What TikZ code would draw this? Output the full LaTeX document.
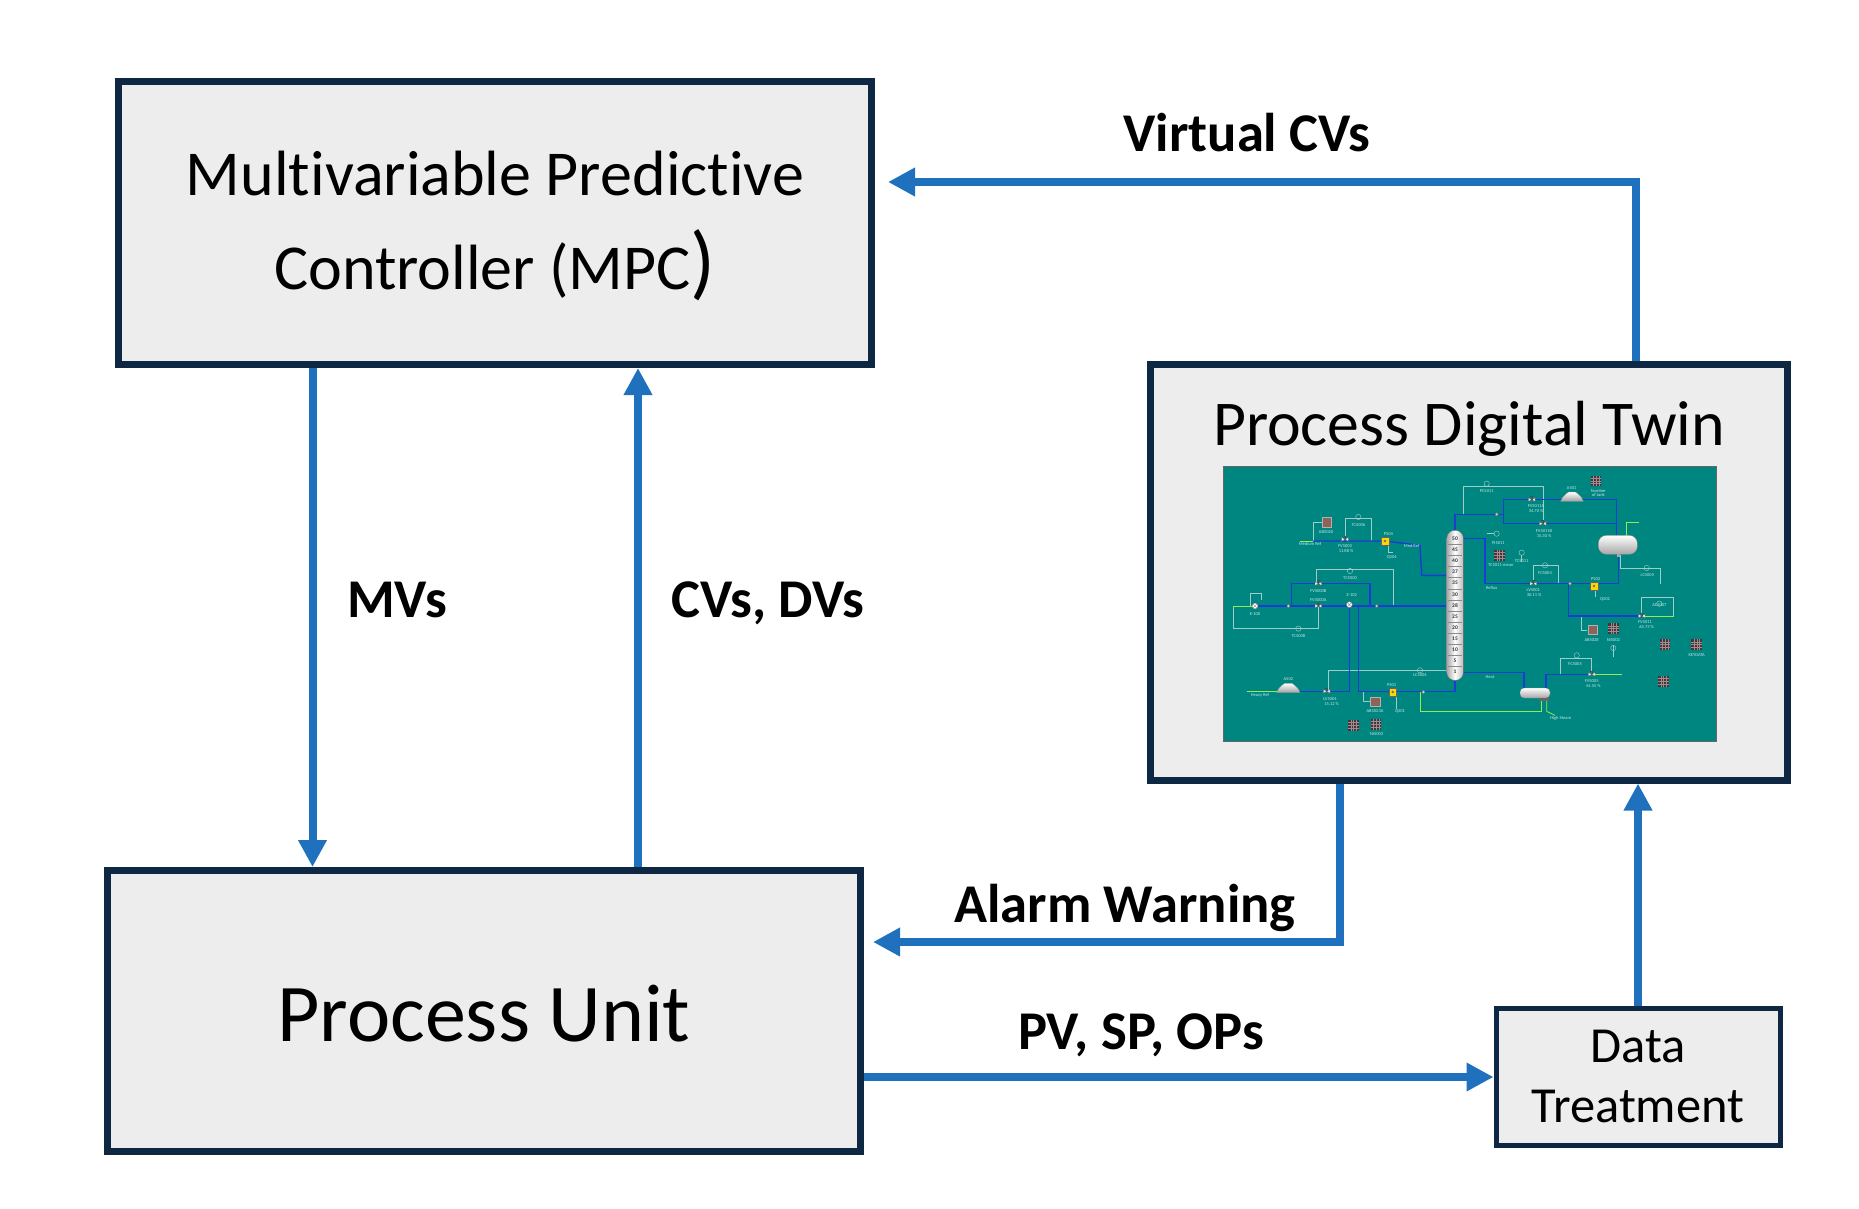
\documentclass[tikz,border=0pt]{standalone}
\usepackage{fontspec}
\setmainfont{Carlito}[Ligatures=NoCommon]
\usetikzlibrary{arrows.meta}
\definecolor{navy}{RGB}{14,40,68}
\definecolor{boxfill}{RGB}{237,237,237}
\definecolor{arrowblue}{RGB}{31,113,190}
\definecolor{tealbg}{RGB}{0,134,128}
\definecolor{pipeblue}{RGB}{30,60,210}
\definecolor{sigline}{RGB}{160,205,200}
\definecolor{greenline}{RGB}{150,235,80}
\definecolor{gridc}{RGB}{70,52,58}
\definecolor{gridl}{RGB}{160,140,140}
\definecolor{anac}{RGB}{140,100,90}
\definecolor{labc}{RGB}{195,232,230}
\tikzset{
  box/.style={draw=navy, fill=boxfill, line width=7pt, inner sep=0pt},
  flow/.style={draw=arrowblue, line width=8pt, -{Triangle[length=27pt,width=27pt]}},
  lbl/.style={font=\bfseries\fontsize{54.6}{60}\selectfont, anchor=base, inner sep=0pt},
  boxtxt/.style={anchor=base, inner sep=0pt},
  fslab/.style={font=\fontsize{4.5}{5}\selectfont, text=labc, inner sep=0pt},
  colnum/.style={font=\bfseries\fontsize{5.5}{6}\selectfont, text=black!80, inner sep=0pt},
  pipe/.style={draw=pipeblue, line width=1.4pt},
  sig/.style={draw=sigline, line width=0.4pt},
  grn/.style={draw=greenline, line width=0.8pt},
  fsvalve/.pic={
    \fill[white!85!gray, draw=black!70, line width=0.25pt] (-10,-6)--(-10,6)--(0,0)--cycle (10,-6)--(10,6)--(0,0)--cycle;
    \draw[black!70, line width=0.3pt] (0,0)--(0,-10) (-4,-10)--(4,-10);},
  fspump/.pic={
    \fill[yellow!75!orange, draw=black!60, line width=0.25pt] (-11,-11) rectangle (11,11);
    \fill[black!55] (0,0) circle (4);},
  fsgrid/.pic={
    \fill[gridc] (-16,-16) rectangle (16,16);
    \draw[gridl, line width=0.35pt] (-16,-8)--(16,-8) (-16,0)--(16,0) (-16,8)--(16,8) (-8,-16)--(-8,16) (0,-16)--(0,16) (8,-16)--(8,16);},
  fsana/.pic={\fill[anac, draw=gray!60, line width=0.3pt] (-14,-14) rectangle (14,14);},
  fsctl/.pic={\draw[sigline, line width=0.4pt] (0,0) circle (8);},
  fsmix/.pic={\fill[white, draw=black!60, line width=0.3pt] (0,0) circle (9); \draw[black!60, line width=0.3pt] (-6,-6)--(6,6) (-6,6)--(6,-6);},
  fsjn/.pic={\fill[gray!40, draw=black!60, line width=0.25pt] (0,0) circle (5);}
}
\begin{document}
\begin{tikzpicture}[x=1pt, y=-1pt, line cap=butt]
\useasboundingbox (0,0) rectangle (1859,1209);
\fill[white] (0,0) rectangle (1859,1209);

% ---------- boxes ----------
\node[box, minimum width=753pt, minimum height=283pt] (mpc) at (495,223) {};
\node[box, minimum width=753pt, minimum height=281pt] (pu) at (484,1011) {};
\node[box, minimum width=637pt, minimum height=416pt] (dt) at (1469,572) {};
\node[box, line width=5pt, minimum width=284pt, minimum height=137pt] (dtr) at (1638,1077) {};

% ---------- box texts ----------
\node[boxtxt, font=\fontsize{64}{70}\selectfont] (mpc1) at (495,196) {Multivariable Predictive};
\node[boxtxt, font=\fontsize{64}{70}\selectfont] (mpc2) at (495,289) {Controller (MPC{\fontsize{82}{82}\selectfont)}};
\node[boxtxt, font=\fontsize{82}{90}\selectfont] (put) at (484,1041) {Process Unit};
\node[boxtxt, font=\fontsize{63.8}{70}\selectfont] (dtt) at (1469,445) {Process Digital Twin};
\node[boxtxt, font=\fontsize{50.5}{56}\selectfont] (dtr1) at (1638,1062) {Data};
\node[boxtxt, font=\fontsize{50.5}{56}\selectfont] (dtr2) at (1638,1122) {Treatment};

% ---------- flowsheet picture ----------
\node[draw=black!60, fill=tealbg, line width=0.6pt, inner sep=0pt, minimum width=492.6pt, minimum height=275.3pt] (img) at (1469.6,603.6) {};
\begin{scope}[xshift=1220pt, yshift=-462pt, x=0.33333pt, y=-0.33333pt]
  % signal lines
  \draw[sig] (730,157)--(730,72)--(970,72)--(970,185);
  \draw[sig] (280,237)--(280,180)--(305,180);
  \draw[sig] (375,225)--(375,168)--(455,168)--(455,237);
  \draw[sig] (290,365)--(290,322)--(520,322)--(520,432);
  \draw[sig] (40,432)--(40,500)--(295,500)--(295,432);
  \draw[sig] (90,432)--(90,395)--(125,395)--(125,415);
  \draw[sig] (800,215)--(822,215);
  \draw[sig] (940,355)--(940,310)--(1015,310)--(1015,362);
  \draw[sig] (905,280)--(905,300);
  \draw[sig] (1200,280)--(1200,318)--(1320,318)--(1320,365);
  \draw[sig] (1265,455)--(1265,405)--(1360,405)--(1360,462);
  \draw[sig] (1085,462)--(1085,505)--(1100,505);
  \draw[sig] (1020,637)--(1020,590)--(1115,590)--(1115,630);
  \draw[sig] (325,688)--(325,625)--(690,625)--(690,632);
  \draw[sig] (430,688)--(430,718)--(450,718);
  \draw[sig] (530,690)--(530,740);
  \draw[sig] (505,245)--(505,272)--(520,272);
  \draw[sig] (1125,380)--(1125,405);
  \draw[sig] (1180,550)--(1180,585);
  % green lines
  \draw[grn] (40,432)--(100,432);
  \draw[grn] (240,237)--(280,237);
  \draw[grn] (80,688)--(180,688);
  \draw[grn] (1270,462)--(1362,462);
  \draw[grn] (1120,637)--(1205,637);
  \draw[grn] (600,690)--(600,748)--(965,748)--(965,712);
  \draw[grn] (1220,222)--(1220,180)--(1258,180);
  \draw[grn] (980,712)--(980,748)--(1005,760);
  % blue pipes
  \draw[pipe] (105,432)--(680,432);
  \draw[pipe] (215,432)--(215,365)--(450,365)--(450,432);
  \draw[pipe] (388,432)--(388,688)--(235,688);
  \draw[pipe] (415,432)--(415,688)--(705,688)--(705,655);
  \draw[pipe] (280,237)--(495,237)--(600,250)--(605,340)--(680,340);
  \draw[pipe] (705,205)--(705,157)--(850,157);
  \draw[pipe] (850,113)--(850,185);
  \draw[pipe] (850,113)--(1190,113)--(1190,220);
  \draw[pipe] (850,185)--(1190,185);
  \draw[pipe] (730,230)--(795,230)--(795,365)--(1195,365)--(1195,280);
  \draw[pipe] (1045,365)--(1045,462)--(1265,462);
  \draw[pipe] (730,632)--(912,632)--(912,678);
  \draw[pipe] (978,678)--(978,637)--(1115,637);
  % column
  \shade[left color=gray!70, right color=gray!55, middle color=white, draw=black!60, line width=0.3pt, rounded corners=8pt] (680,205) rectangle (730,655);
  \foreach \yy in {246,279,313,346,380,413,446,480,513,546,580,613}
    \draw[black!45, line width=0.25pt] (684,\yy)--(726,\yy);
  \foreach \nn/\yy in {50/230,45/263,40/296,37/330,35/363,30/397,28/430,25/463,20/496,15/530,10/563,5/597,1/630}
    \node[colnum] at (705,\yy) {\nn};
  % drum and reboiler
  \shade[top color=white, bottom color=gray!70, draw=black!50, line width=0.3pt, rounded corners=8pt] (1135,220) rectangle (1252,277);
  \fill[gray!70] (1190,277) rectangle (1200,285);
  \shade[top color=white, bottom color=gray!70, draw=black!50, line width=0.3pt, rounded corners=4pt] (900,678) rectangle (990,708);
  \fill[black!60] (958,708) rectangle (988,718);
  % tanks
  \shade[top color=white, bottom color=gray!75, draw=black!40, line width=0.25pt] (1022,118)--(1090,118)--(1084,106)--(1074,96)--(1066,90)--(1046,90)--(1038,96)--(1028,106)--cycle;
  \shade[top color=white, bottom color=gray!75, draw=black!40, line width=0.25pt] (170,692)--(240,692)--(234,680)--(224,670)--(216,664)--(194,664)--(186,670)--(176,680)--cycle;
  % icons
  \foreach \px/\py in {1128/57,838/280,1180/500,1335/548,1430/548,1330/658,400/790,468/787}
    \pic at (\px,\py) {fsgrid};
  \foreach \px/\py in {320/180,1117/503,465/718}
    \pic at (\px,\py) {fsana};
  \foreach \px/\py in {375/232,295/365,295/432,320/688,935/113,968/185,940/365,1265/462,1115/637}
    \pic at (\px,\py) {fsvalve};
  \foreach \px/\py in {495/237,518/690,1122/372}
    \pic at (\px,\py) {fspump};
  \foreach \px/\py in {800/65,415/165,390/327,235/500,830/215,905/272,975/310,1280/318,1318/425,1070/580,600/625,1180/558}
    \pic at (\px,\py) {fsctl};
  \pic at (105,432) {fsmix};
  \pic at (388,428) {fsmix};
  \foreach \px/\py in {205/432,470/432,610/690,1050/365,830/157}
    \pic at (\px,\py) {fsjn};
  % tiny labels
  \node[fslab] at (800,88) {PC5011};
  \node[fslab] at (948,133) {FV5011A};
  \node[fslab] at (948,148) {34.70 \%};
  \node[fslab] at (1055,78) {A501};
  \node[fslab] at (1135,88) {Number};
  \node[fslab] at (1135,100) {of tank};
  \node[fslab] at (972,207) {FV5011B};
  \node[fslab] at (972,222) {15.30 \%};
  \node[fslab] at (415,188) {TC5006};
  \node[fslab] at (318,210) {AB5020};
  \node[fslab] at (270,245) {Medium Ref};
  \node[fslab] at (375,252) {FV5003};
  \node[fslab] at (378,268) {11.88 \%};
  \node[fslab] at (505,215) {P504};
  \node[fslab] at (515,285) {Q504};
  \node[fslab] at (575,252) {Med Ref};
  \node[fslab] at (835,243) {PI5011};
  \node[fslab] at (905,297) {TC5011};
  \node[fslab] at (842,310) {TC5011-mean};
  \node[fslab] at (975,332) {FC5004};
  \node[fslab] at (815,378) {Reflux};
  \node[fslab] at (940,385) {LV5001};
  \node[fslab] at (942,400) {30.11 \%};
  \node[fslab] at (1127,350) {P502};
  \node[fslab] at (1155,412) {Q502};
  \node[fslab] at (1282,340) {LC5005};
  \node[fslab] at (1318,430) {AC5007};
  \node[fslab] at (1275,480) {FV5011};
  \node[fslab] at (1280,495) {65.73 \%};
  \node[fslab] at (1115,533) {AB5028};
  \node[fslab] at (1180,533) {NI5002};
  \node[fslab] at (1430,578) {KEYDATA};
  \node[fslab] at (1065,607) {FC5005};
  \node[fslab] at (1115,658) {FV5005};
  \node[fslab] at (1120,673) {54.55 \%};
  \node[fslab] at (1022,770) {High Steam};
  \node[fslab] at (810,645) {Heat};
  \node[fslab] at (600,640) {LC5004};
  \node[fslab] at (205,650) {A502};
  \node[fslab] at (120,700) {Heavy Ref};
  \node[fslab] at (330,712) {LV5004};
  \node[fslab] at (335,727) {15.12 \%};
  \node[fslab] at (515,668) {P501};
  \node[fslab] at (540,748) {Q501};
  \node[fslab] at (465,748) {AB5023A};
  \node[fslab] at (470,817) {NI5003};
  \node[fslab] at (390,348) {TC5000};
  \node[fslab] at (295,387) {FV5000B};
  \node[fslab] at (295,415) {FV5000A};
  \node[fslab] at (395,400) {E-102};
  \node[fslab] at (105,455) {E-100};
  \node[fslab] at (235,523) {TC5008};
\end{scope}

% ---------- connector reference coordinates ----------
\coordinate (mvx) at (312.5,0);
\coordinate (cvx) at (638,0);
\coordinate (vcx) at (1636,0);
\coordinate (vcy) at (0,182);
\coordinate (alx) at (1340,0);
\coordinate (aly) at (0,942);
\coordinate (pvy) at (0,1077);

% ---------- connectors ----------
\draw[flow] (mpc.south -| mvx) -- (pu.north -| mvx);
\draw[flow] (pu.north -| cvx) -- (mpc.south -| cvx);
\draw[flow, shorten >=13pt] (dt.north -| vcx) |- (mpc.east |- vcy);
\draw[flow, shorten >=9pt] (dt.south -| alx) |- (pu.east |- aly);
\draw[flow] (pu.east |- pvy) -- (dtr.west |- pvy);
\draw[flow] (dtr.north) -- (dt.south -| dtr.north);

% ---------- connector labels ----------
\node[lbl] (lvcv) at (1247,152) {Virtual CVs};
\node[lbl] (lmv) at (397,617) {MVs};
\node[lbl] (lcv) at (768,617) {CVs, DVs};
\node[lbl] (lal) at (1125,922) {Alarm Warning};
\node[lbl] (lpv) at (1141,1049) {PV, SP, OPs};
\end{tikzpicture}
\end{document}
